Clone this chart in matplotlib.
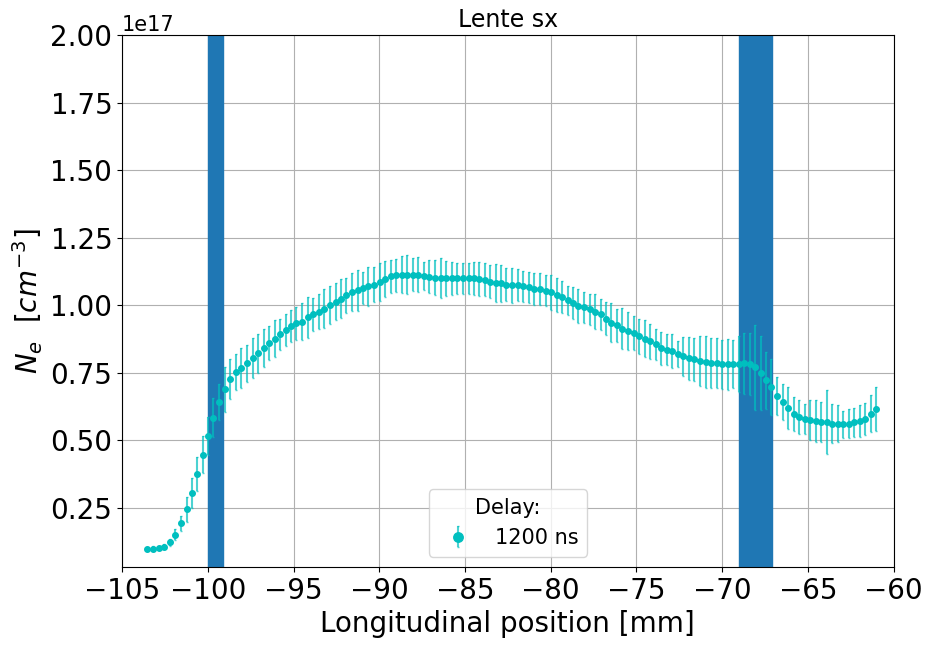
import numpy as np
import matplotlib
matplotlib.use('Agg')
from matplotlib import pyplot as plt

# posizioni longitudinali [mm]
pos = [-103.52, -103.17, -102.84, -102.55, -102.22, -101.91, -101.58, -101.23, -100.94, -100.61,
       -100.30, -99.97, -99.68, -99.33, -99.00, -98.69, -98.37, -98.05, -97.71, -97.38,
       -97.05, -96.74, -96.41, -96.10, -95.77, -95.46, -95.13, -94.84,
       -94.49, -94.18, -93.85, -93.52, -93.21, -92.88, -92.54, -92.22, -91.92, -91.59,
       -91.26, -90.93, -90.64, -90.31, -89.98, -89.65, -89.34, -89.01, -88.70, -88.37,
       -88.06, -87.73, -87.41, -87.09, -86.76, -86.42, -86.11, -85.78,
       -85.46, -85.11, -84.77, -84.46, -84.17, -83.86, -83.55, -83.22, -82.89, -82.58,
       -82.25, -81.92, -81.61, -81.28, -80.97, -80.64, -80.30, -79.99, -79.66, -79.35,
       -79.02, -78.69, -78.38, -78.05, -77.72, -77.41, -77.08, -76.75,
       -76.46, -76.13, -75.82, -75.49, -75.17, -74.85, -74.51, -74.21, -73.87, -73.54,
       -73.23, -72.90, -72.57, -72.26, -71.93, -71.62, -71.29, -70.96, -70.65, -70.32,
       -70.01, -69.68, -69.35, -69.04, -68.70, -68.38, -68.06, -67.73,
       -67.42, -67.13, -66.80, -66.47, -66.14, -65.83, -65.50, -65.19, -64.86, -64.55,
       -64.22, -63.91, -63.57, -63.26, -62.93, -62.62, -62.29, -61.97, -61.65, -61.32, -61.01]

# densita' elettronica [1e17 cm^-3]
ne = [0.096, 0.098, 0.101, 0.105, 0.121, 0.149, 0.191, 0.243, 0.305, 0.375,
      0.446, 0.516, 0.582, 0.641, 0.688, 0.725, 0.752, 0.766, 0.784, 0.803,
      0.822, 0.840, 0.859, 0.876, 0.892, 0.907, 0.923, 0.933,
      0.939, 0.954, 0.965, 0.976, 0.987, 1.000, 1.013, 1.024, 1.036, 1.047,
      1.054, 1.062, 1.069, 1.076, 1.085, 1.095, 1.106, 1.110, 1.113, 1.113,
      1.113, 1.113, 1.108, 1.105, 1.101, 1.099, 1.099, 1.099,
      1.099, 1.099, 1.099, 1.099, 1.097, 1.094, 1.086, 1.082, 1.080, 1.076,
      1.073, 1.073, 1.069, 1.065, 1.060, 1.058, 1.053, 1.047, 1.038, 1.029,
      1.017, 1.006, 0.997, 0.991, 0.984, 0.976, 0.965, 0.950,
      0.935, 0.925, 0.913, 0.903, 0.896, 0.885, 0.876, 0.865, 0.854, 0.840,
      0.835, 0.829, 0.820, 0.810, 0.803, 0.799, 0.792, 0.788, 0.786, 0.784,
      0.781, 0.781, 0.781, 0.782, 0.784, 0.782, 0.769, 0.749,
      0.721, 0.697, 0.663, 0.641, 0.619, 0.598, 0.585, 0.578, 0.573, 0.572,
      0.567, 0.566, 0.561, 0.561, 0.558, 0.561, 0.565, 0.570, 0.578, 0.598, 0.615]

err = [0.008, 0.008, 0.008, 0.009, 0.013, 0.020, 0.026, 0.045, 0.055, 0.062,
       0.068, 0.070, 0.072, 0.068, 0.083, 0.074, 0.068, 0.074, 0.068, 0.074,
       0.072, 0.070, 0.063, 0.067, 0.058, 0.060, 0.059, 0.061,
       0.067, 0.076, 0.060, 0.065, 0.072, 0.069, 0.067, 0.072, 0.065, 0.070,
       0.075, 0.059, 0.071, 0.066, 0.071, 0.067, 0.062, 0.062, 0.067, 0.071,
       0.062, 0.064, 0.053, 0.060, 0.064, 0.074, 0.064, 0.062,
       0.058, 0.058, 0.058, 0.062, 0.062, 0.061, 0.061, 0.071, 0.068, 0.062,
       0.064, 0.059, 0.057, 0.056, 0.060, 0.059, 0.057, 0.064, 0.062, 0.059,
       0.054, 0.059, 0.062, 0.057, 0.058, 0.064, 0.058, 0.062,
       0.071, 0.062, 0.077, 0.070, 0.062, 0.065, 0.068, 0.064, 0.057, 0.062,
       0.057, 0.063, 0.048, 0.072, 0.080, 0.079, 0.093, 0.097, 0.093, 0.093,
       0.091, 0.095, 0.090, 0.105, 0.112, 0.115, 0.157, 0.136,
       0.105, 0.105, 0.072, 0.068, 0.077, 0.063, 0.062, 0.054, 0.074, 0.078,
       0.074, 0.119, 0.073, 0.068, 0.051, 0.054, 0.054, 0.059, 0.060, 0.068, 0.080]

# zone delle lenti [mm]
lens1 = (-100.0, -99.1)
lens2 = (-69.0, -67.1)

if __name__ == '__main__':
    x = np.array(pos)
    y = np.array(ne) * 1e17
    dy = np.array(err) * 1e17

    fig = plt.figure(figsize=(9.28, 6.45), dpi=100)
    ax = fig.add_axes([0.1315, 0.121, 0.8315, 0.8247])
    ax.grid(True, color='#b0b0b0', zorder=0)
    ax.set_axisbelow(True)
    ax.axvspan(lens1[0], lens1[1], color='#1f77b4', zorder=1)
    ax.axvspan(lens2[0], lens2[1], color='#1f77b4', zorder=1)
    ax.errorbar(x, y, yerr=dy, fmt='o', color='c', ms=4, ecolor=(0.0, 0.75, 0.75, 0.7),
                elinewidth=1.5, capsize=0.8, label='1200 ns', zorder=3)

    ax.set_xlim(-105, -60)
    ax.set_ylim(0.03e17, 2e17)
    ax.set_xticks(np.arange(-105, -59, 5))
    ax.tick_params(labelsize=20)
    ax.yaxis.get_offset_text().set_fontsize(15)
    ax.set_title('Lente sx', fontsize=17)
    ax.set_xlabel('Longitudinal position [mm]', fontsize=20)
    ax.set_ylabel(r'$N_e$  $[cm^{-3}]$', fontsize=20)
    ax.legend(title='Delay:', loc='lower center', fontsize=15, title_fontsize=15,
              markerscale=1.7)
    fig.savefig('out.png', dpi=100)
